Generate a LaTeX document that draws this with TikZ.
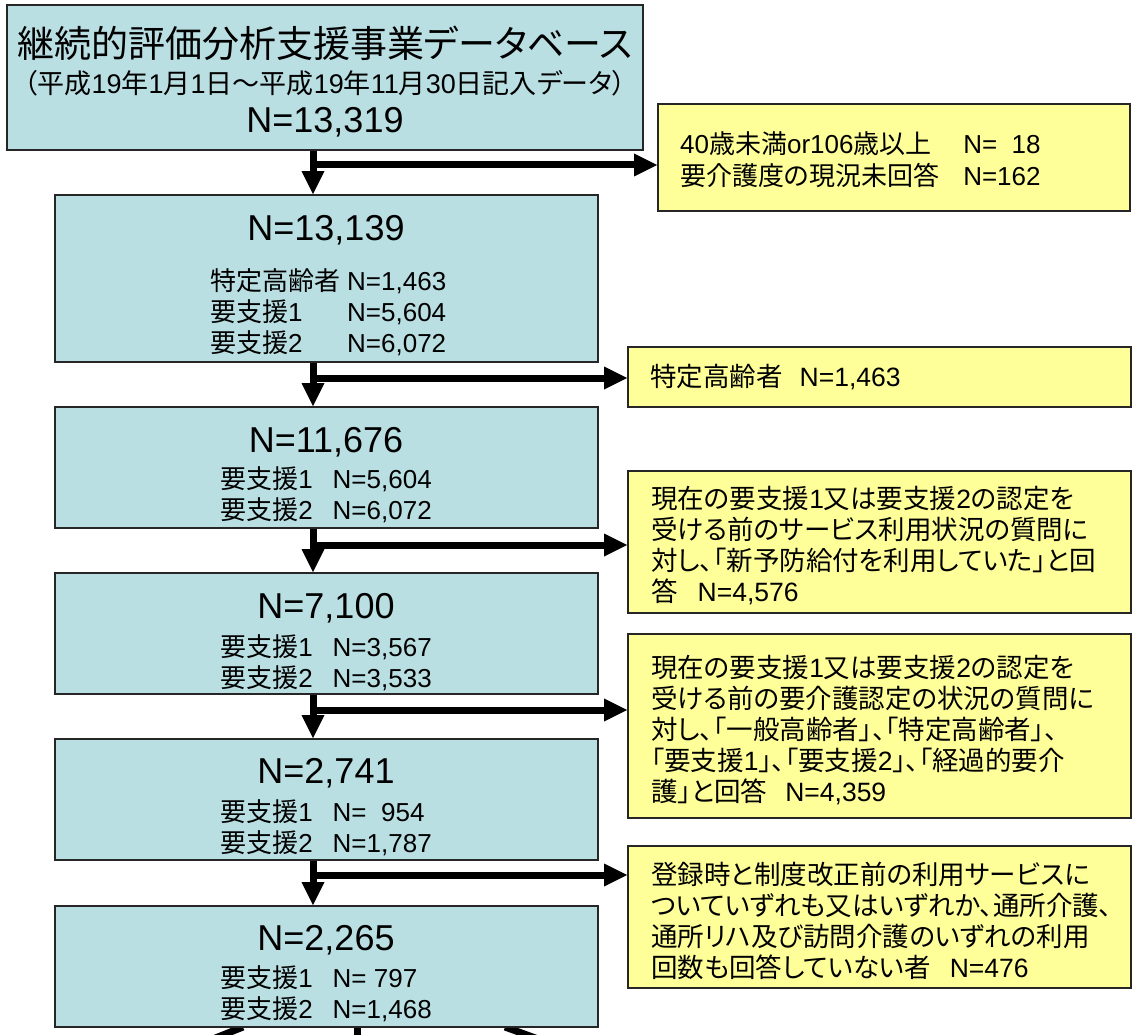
\documentclass[tikz,border=0pt]{standalone}
\usepackage{fontspec}
\setmainfont{Liberation Sans}
\newfontfamily\jpfont{Noto Sans CJK JP}[RawFeature=+palt]
\usetikzlibrary{arrows.meta,backgrounds}
\XeTeXinterchartokenstate=1
\newXeTeXintercharclass\jpcls
\makeatletter
\def\setjprange#1#2{\count@=#1\relax
  \loop\XeTeXcharclass\count@=\jpcls\relax
  \ifnum\count@<#2\relax\advance\count@\@ne\repeat}
\setjprange{"3000}{"30FF}
\setjprange{"4E00}{"9FFF}
\setjprange{"FF00}{"FFEF}
\makeatother
\XeTeXinterchartoks 0 \jpcls = {\jpfont}
\XeTeXinterchartoks 4095 \jpcls = {\jpfont}
\XeTeXinterchartoks \jpcls 0 = {\normalfont}
\XeTeXinterchartoks 4095 0 = {\normalfont}
\definecolor{boxblue}{RGB}{185,223,227}
\definecolor{boxyellow}{RGB}{255,255,153}
\newcommand\ftitle{\fontsize{37}{44}\selectfont}
\newcommand\fbig{\fontsize{36}{42}\selectfont}
\newcommand\fsub{\fontsize{27}{30}\selectfont}
\newcommand\fsmall{\fontsize{26}{31}\selectfont}
\newcommand\fyel{\fontsize{26.5}{31}\selectfont}
\begin{document}
\begin{tikzpicture}[x=1pt,y=-1pt,
  bluebox/.style={draw=black!85, line width=1.6pt, fill=boxblue, inner sep=0pt},
  yelbox/.style={draw=black!85, line width=1.6pt, fill=boxyellow, inner sep=0pt},
  txt/.style={inner sep=0pt, text=black},
  bigtxt/.style={txt, font=\fbig},
  smalltxt/.style={txt, font=\fyel, align=left, anchor=west},
  stem/.style={line width=7pt, -{Triangle[length=23pt,width=23pt,line width=0pt]}},
  branch/.style={line width=7pt, -{Triangle[length=23pt,width=23pt,line width=0pt]}},
  cutline/.style={line width=7pt}]
\useasboundingbox (0,0) rectangle (1137,1035);

% main (blue) boxes
\node[bluebox, minimum width=636pt, minimum height=145pt] (b1) at (325,77.5) {};
\node[bluebox, minimum width=543pt, minimum height=167pt] (b2) at (326.5,278.5) {};
\node[bluebox, minimum width=543pt, minimum height=121pt] (b3) at (326.5,467.5) {};
\node[bluebox, minimum width=543pt, minimum height=121pt] (b4) at (326.5,633.5) {};
\node[bluebox, minimum width=543pt, minimum height=121pt] (b5) at (326.5,799.5) {};
\node[bluebox, minimum width=543pt, minimum height=121pt] (b6) at (326.5,966.5) {};

% excluded (yellow) boxes
\node[yelbox, minimum width=472pt, minimum height=107pt] (y1) at (894,157.5) {};
\node[yelbox, minimum width=503pt, minimum height=60pt] (y2) at (879.5,377) {};
\node[yelbox, minimum width=503pt, minimum height=142pt] (y3) at (879.5,542) {};
\node[yelbox, minimum width=503pt, minimum height=184pt] (y4) at (879.5,726) {};
\node[yelbox, minimum width=503pt, minimum height=142pt] (y5) at (879.5,917) {};

% texts of box 1
\node[txt, font=\ftitle] (t1a) at (325,43) {継続的評価分析支援事業データベース};
\node[txt, font=\fsub] (t1b) at (325,83) {（平成19年1月1日～平成19年11月30日記入データ）};
\node[bigtxt] (t1c) at (325,122) {N=13,319};

% texts of box 2
\node[bigtxt] (t2a) at (326,230) {N=13,139};
\node[txt, font=\fsmall, anchor=west] (t2b) at (210,315) {\begin{tabular}{@{}l@{\hspace{7pt}}l@{}}特定高齢者 & N=1,463\\ 要支援1 & N=5,604\\ 要支援2 & N=6,072\end{tabular}};

% texts of box 3
\node[bigtxt] (t3a) at (326,442) {N=11,676};
\node[txt, font=\fsmall] (t3b) at (326,498) {\begin{tabular}{@{}l@{\hspace{20pt}}l@{}}要支援1 & N=5,604\\ 要支援2 & N=6,072\end{tabular}};

% texts of box 4
\node[bigtxt] (t4a) at (326,608) {N=7,100};
\node[txt, font=\fsmall] (t4b) at (326,666) {\begin{tabular}{@{}l@{\hspace{20pt}}l@{}}要支援1 & N=3,567\\ 要支援2 & N=3,533\end{tabular}};

% texts of box 5
\node[bigtxt] (t5a) at (326,773) {N=2,741};
\node[txt, font=\fsmall] (t5b) at (326,831) {\begin{tabular}{@{}l@{\hspace{20pt}}l@{}}要支援1 & N=\ \ 954\\ 要支援2 & N=1,787\end{tabular}};

% texts of box 6
\node[bigtxt] (t6a) at (326,940) {N=2,265};
\node[txt, font=\fsmall] (t6b) at (326,997) {\begin{tabular}{@{}l@{\hspace{20pt}}l@{}}要支援1 & N=\ 797\\ 要支援2 & N=1,468\end{tabular}};

% texts of yellow boxes
\node[txt, font=\fontsize{26}{32}\selectfont, anchor=west] (u1) at (680,163) {\begin{tabular}{@{}l@{\hspace{24pt}}l@{}}40歳未満or106歳以上 & N=\hphantom{1}18\\ 要介護度の現況未回答 & N=162\end{tabular}};
\node[smalltxt] (u2) at (650,377) {特定高齢者\hspace{17pt}N=1,463};
\node[smalltxt] (u3) at (651,545.5) {現在の要支援1又は要支援2の認定を\\受ける前のサービス利用状況の質問に\\対し、「新予防給付を利用していた」と回\\答\hspace{20pt}N=4,576};
\node[smalltxt] (u4) at (651,730) {現在の要支援1又は要支援2の認定を\\受ける前の要介護認定の状況の質問に\\対し、「一般高齢者」、「特定高齢者」、\\「要支援1」、「要支援2」、「経過的要介\\護」と回答\hspace{18pt}N=4,359};
\node[smalltxt] (u5) at (651,920.5) {登録時と制度改正前の利用サービスに\\ついていずれも又はいずれか、通所介護、\\通所リハ及び訪問介護のいずれの利用\\回数も回答していない者\hspace{19pt}N=476};

% connectors
\coordinate (k1) at (313,165);
\coordinate (k2) at (313,378);
\coordinate (k3) at (313,545);
\coordinate (k4) at (313,710);
\coordinate (k5) at (313,875);
\draw[stem] (b1.south -| k1) -- (b2.north -| k1);
\draw[branch] (k1) -- (y1.west |- k1);
\draw[stem] (b2.south -| k2) -- (b3.north -| k2);
\draw[branch] (k2) -- (y2.west |- k2);
\draw[stem] (b3.south -| k3) -- (b4.north -| k3);
\draw[branch] (k3) -- (y3.west |- k3);
\draw[stem] (b4.south -| k4) -- (b5.north -| k4);
\draw[branch] (k4) -- (y4.west |- k4);
\draw[stem] (b5.south -| k5) -- (b6.north -| k5);
\draw[branch] (k5) -- (y5.west |- k5);

% lines leaving the last box (cut off at the bottom edge)
\coordinate (d1) at (243,1027);
\coordinate (d2) at (357,1027);
\coordinate (d3) at (505,1027);
\begin{scope}[on background layer]
\draw[cutline] (d1) -- ++(-100,40);
\draw[cutline] (d2) -- ++(0,40);
\draw[cutline] (d3) -- ++(110,40);
\end{scope}
\end{tikzpicture}
\end{document}
